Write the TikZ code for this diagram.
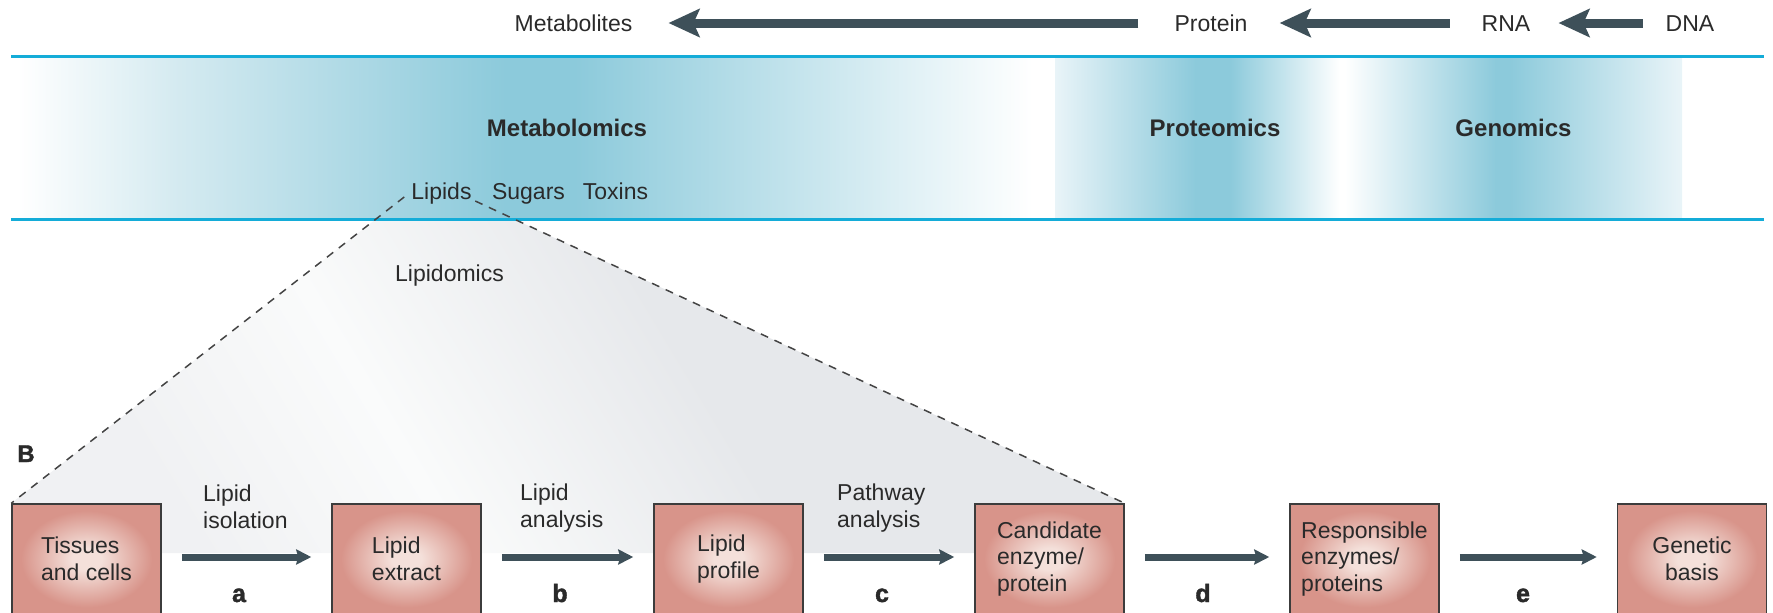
\documentclass[tikz,border=0pt]{standalone}
\usepackage{fontspec}
\setmainfont{Liberation Sans}
\newfontfamily\heavyfont[FakeBold=1.6]{Liberation Sans Bold}
\usetikzlibrary{arrows.meta,calc}

% palette
\definecolor{ink}{HTML}{2A2A2A}
\definecolor{arrowgray}{HTML}{3E5059}
\definecolor{rule}{HTML}{14ACD8}
\definecolor{bandpeak}{HTML}{8CCADB}
\definecolor{bandlight}{HTML}{D6EBF1}
\definecolor{bandedge}{HTML}{E9F4F8}
\definecolor{fillgray}{HTML}{E6E8EB}
\definecolor{fillpale}{HTML}{F0F1F3}
\definecolor{fillwhite}{HTML}{FAFBFB}
\definecolor{boxin}{HTML}{F4E0DA}
\definecolor{boxout}{HTML}{D8948A}
\definecolor{boxline}{HTML}{3C3C3C}
\definecolor{dashgray}{HTML}{444444}

% soft glow inside the step boxes
\pgfdeclareradialshading{boxglow}{\pgfpoint{0bp}{0bp}}{color(0bp)=(boxin); color(5bp)=(boxin); color(22bp)=(boxout); color(50bp)=(boxout)}
% grey wedge below the lipid entry
\pgfdeclarehorizontalshading{lipfade}{100bp}{color(0bp)=(fillpale); color(38bp)=(fillpale); color(45bp)=(fillwhite); color(54bp)=(fillgray); color(100bp)=(fillgray)}

\pgfdeclarelayer{bg}
\pgfsetlayers{bg,main}

\begin{document}
\begin{tikzpicture}[x=1pt, y=-1pt,
  font=\fontsize{23}{26.5}\selectfont, text=ink,
  topword/.style={inner sep=0pt, text height=16.5pt, text depth=0pt},
  omic/.style={inner sep=0pt, text height=17.2pt, text depth=0pt,
    font=\fontsize{24}{28}\selectfont\bfseries},
  bigarrow/.style={draw=arrowgray, line width=9pt,
    -{Stealth[length=31pt,width=28pt,inset=6pt]}},
  rulerline/.style={draw=rule, line width=3pt},
  stepbox/.style={draw=boxline, line width=1.5pt, shade, shading=boxglow,
    minimum width=149pt, minimum height=110pt, inner sep=0pt, align=left},
  flowarrow/.style={draw=arrowgray, line width=7pt,
    -{Stealth[length=15pt,width=15pt,inset=2pt]},
    shorten <=20pt, shorten >=20pt},
  steplabel/.style={align=left, inner sep=0pt, anchor=west},
  stepletter/.style={inner sep=0pt, anchor=base,
    font=\fontsize{25}{28}\selectfont\heavyfont},
  lipdash/.style={draw=dashgray, line width=1.5pt, dash pattern=on 8pt off 7pt}]

\useasboundingbox (0,0) rectangle (1773,613);
\clip (0,0) rectangle (1773,613);

% central dogma row
\node[topword] (metab) at (573.5,23) {Metabolites};
\node[topword] (prot) at (1211,23) {Protein};
\node[topword] (rna) at (1506,23) {RNA};
\node[topword] (dna) at (1690,23) {DNA};
\draw[bigarrow, shorten <=36pt, shorten >=36pt] (prot.west) -- (metab.east);
\draw[bigarrow, shorten <=32pt, shorten >=32pt] (rna.west) -- (prot.east);
\draw[bigarrow, shorten <=23pt, shorten >=28pt] (dna.west) -- (rna.east);

% omics band
\shade[left color=white, right color=bandlight] (18,56.5) rectangle (171,219);
\shade[left color=bandlight, right color=bandpeak] (170,56.5) rectangle (506,219);
\fill[bandpeak] (505,56.5) rectangle (576,219);
\shade[left color=bandpeak, right color=white] (575,56.5) rectangle (1032,219);
\shade[left color=bandedge, right color=bandpeak] (1055,56.5) rectangle (1196,219);
\fill[bandpeak] (1195,56.5) rectangle (1231,219);
\shade[left color=bandpeak, right color=white] (1230,56.5) rectangle (1340,219);
\shade[left color=white, right color=bandpeak] (1345,56.5) rectangle (1496,219);
\fill[bandpeak] (1495,56.5) rectangle (1511,219);
\shade[left color=bandpeak, right color=bandedge] (1510,56.5) rectangle (1682,219);
\draw[rulerline] (11,56.5) -- (1764,56.5);
\draw[rulerline] (11,219) -- (1764,219);

\node[omic] (metabo) at (567,128) {Metabolomics};
\node[omic] (proteo) at (1215,128) {Proteomics};
\node[omic] (genom) at (1513.5,128) {Genomics};
\node[topword] (lip) at (441.5,191) {Lipids};
\node[topword] (sug) at (528.5,191) {Sugars};
\node[topword] (tox) at (615.5,191) {Toxins};
\node[topword] (lipidomics) at (449.5,273) {Lipidomics};

% workflow
\node[inner sep=0pt, anchor=base, font=\fontsize{24}{28}\selectfont\heavyfont] (panelB) at (26,462) {B};

\node[stepbox] (tiss) at (86.5,559) {Tissues\\and cells};
\node[stepbox] (ext) at (406.5,559) {Lipid\\extract};
\node[stepbox] (prof) at (728.5,559) {Lipid\\profile};
\node[stepbox] (cand) at (1049.5,559) {Candidate\\enzyme/\\protein};
\node[stepbox] (resp) at (1364.5,559) {Responsible\\enzymes/\\proteins};
\node[stepbox, align=center] (gen) at (1692,559) {Genetic\\basis};

\draw[flowarrow] ([yshift=2pt]tiss.east) -- ([yshift=2pt]ext.west);
\draw[flowarrow] ([yshift=2pt]ext.east) -- ([yshift=2pt]prof.west);
\draw[flowarrow] ([yshift=2pt]prof.east) -- ([yshift=2pt]cand.west);
\draw[flowarrow] ([yshift=2pt]cand.east) -- ([yshift=2pt]resp.west);
\draw[flowarrow] ([yshift=2pt]resp.east) -- ([yshift=2pt]gen.west);

\node[steplabel] (lisol) at (203,507) {Lipid\\isolation};
\node[steplabel] (lanal) at (520,508) {Lipid\\analysis};
\node[steplabel] (panal) at (837,508) {Pathway\\analysis};

\node[stepletter] (sa) at (239,602) {a};
\node[stepletter] (sb) at (560,602) {b};
\node[stepletter] (sc) at (882,602) {c};
\node[stepletter] (sd) at (1203,602) {d};
\node[stepletter] (se) at (1523,602) {e};

% zoom wedge from the lipid entry to the workflow
\coordinate (apexL) at ([xshift=-7pt,yshift=-6pt]lip.west);
\coordinate (apexR) at ([xshift=3.5pt,yshift=-10pt]lip.east);
\coordinate (wedgebase) at (0,553);
\begin{pgfonlayer}{bg}
  \begin{scope}
    \clip (apexL) -- (tiss.north west) -- (tiss.north west |- wedgebase)
      -- (cand.north east |- wedgebase) -- (cand.north east) -- (apexR) -- cycle;
    \shade[shading=lipfade, shading angle=31] (-240,-400) rectangle (1360,1200);
  \end{scope}
\end{pgfonlayer}
\draw[lipdash] (apexL) -- (tiss.north west);
\draw[lipdash] (apexR) -- (cand.north east);

\end{tikzpicture}
\end{document}
